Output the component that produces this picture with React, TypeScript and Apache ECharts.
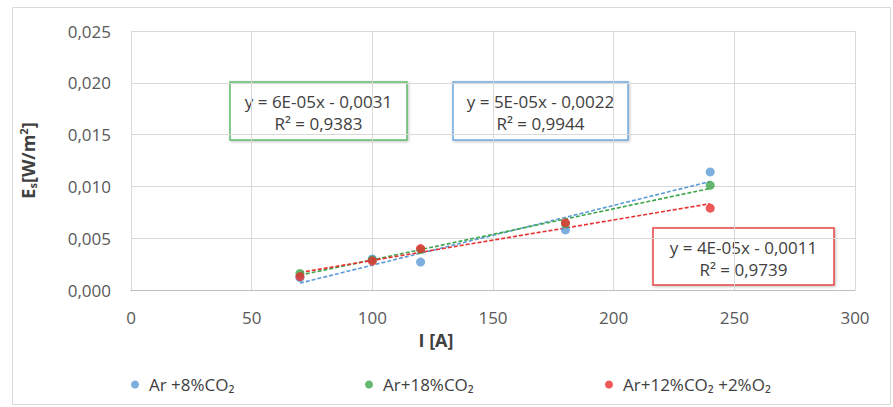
import React, { useEffect, useRef } from "react";
import * as echarts from "echarts";

const currents = [70, 100, 120, 180, 240];
const blueValues = [0.0012, 0.003, 0.0027, 0.0058, 0.0114];
const greenValues = [0.0016, 0.0029, 0.0039, 0.0064, 0.0101];
const redValues = [0.0013, 0.0028, 0.004, 0.0065, 0.0079];
const seriesNames = ["Ar +8%CO₂", "Ar+18%CO₂", "Ar+12%CO₂ +2%O₂"];
const equations = [
  ["y = 6E-05x - 0,0031", "R² = 0,9383"],
  ["y = 5E-05x - 0,0022", "R² = 0,9944"],
  ["y = 4E-05x - 0,0011", "R² = 0,9739"],
];
const xTicks = [0, 50, 100, 150, 200, 250, 300];
const yTicks = [0, 0.005, 0.01, 0.015, 0.02, 0.025];

const BLUE = "#5B9BD5";
const GREEN = "#3DA64B";
const RED = "#E8302F";
const FONT = "'Open Sans', 'Noto Sans', sans-serif";

function fit(xs: number[], ys: number[]) {
  const n = xs.length;
  const mx = xs.reduce((a, b) => a + b, 0) / n;
  const my = ys.reduce((a, b) => a + b, 0) / n;
  let sxy = 0, sxx = 0;
  for (let i = 0; i < n; i++) {
    sxy += (xs[i] - mx) * (ys[i] - my);
    sxx += (xs[i] - mx) ** 2;
  }
  const m = sxy / sxx;
  const b = my - m * mx;
  const x0 = Math.min(...xs), x1 = Math.max(...xs);
  return [[x0, m * x0 + b], [x1, m * x1 + b]];
}

function box(x: number, y: number, w: number, h: number, color: string, lines: string[]) {
  const font = `500 17px ${FONT}`;
  return {
    type: "group",
    x, y,
    children: [
      {
        type: "rect",
        shape: { x: 0, y: 0, width: w, height: h },
        style: { fill: "#fff", stroke: color, lineWidth: 1.5, shadowBlur: 3, shadowColor: "rgba(0,0,0,0.25)", shadowOffsetX: 1, shadowOffsetY: 1 },
      },
      {
        type: "text",
        x: w / 2, y: 19,
        style: { text: lines[0], fill: "#404040", font, align: "center", verticalAlign: "middle" },
      },
      {
        type: "text",
        x: w / 2, y: 41,
        style: { text: lines[1], fill: "#404040", font, align: "center", verticalAlign: "middle" },
      },
    ],
  };
}

export default function App() {
  const ref = useRef<HTMLDivElement>(null);
  useEffect(() => {
    if (!ref.current) return;
    const chart = echarts.init(ref.current, null, { renderer: "svg" });
    const data = [blueValues, greenValues, redValues];
    const colors = [BLUE, GREEN, RED];
    const series: any[] = [];
    data.forEach((vals, i) => {
      series.push({
        type: "line",
        name: seriesNames[i] + "-trend",
        data: fit(currents, vals),
        showSymbol: false,
        symbol: "none",
        lineStyle: { color: colors[i], width: 1.6, type: [4, 2] },
        silent: true,
        z: 2,
      });
    });
    data.forEach((vals, i) => {
      series.push({
        type: "scatter",
        name: seriesNames[i],
        data: currents.map((x, j) => [x, vals[j]]),
        symbolSize: 9,
        itemStyle: { color: colors[i] },
        z: 3,
      });
    });
    const legendLefts = [126, 360, 600];
    chart.setOption({
      animation: false,
      backgroundColor: "#fff",
      textStyle: { fontFamily: FONT },
      grid: { left: 131, right: 38, top: 31, bottom: 117 },
      xAxis: {
        type: "value",
        min: 0,
        max: 300,
        interval: 50,
        axisLine: { show: true, lineStyle: { color: "#bfbfbf", width: 1 } },
        axisTick: { show: false },
        axisLabel: { color: "#595959", fontSize: 17, margin: 19, fontFamily: FONT, formatter: (v: number) => (xTicks.includes(v) ? String(v) : "") },
        splitLine: { show: true, lineStyle: { color: "#d9d9d9", width: 1 } },
      },
      yAxis: {
        type: "value",
        min: 0,
        max: 0.025,
        interval: 0.005,
        name: "{b|E}{sub|s}{b|[W/m}{sup|2}{b|]}",
        nameLocation: "middle",
        nameGap: 92,
        nameRotate: 90,
        nameTextStyle: {
          rich: {
            b: { color: "#404040", fontSize: 18, fontWeight: "bold", fontFamily: FONT, lineHeight: 22 },
            sub: { color: "#404040", fontSize: 11, fontWeight: "bold", fontFamily: FONT, padding: [9, 0, 0, 0], lineHeight: 22 },
            sup: { color: "#404040", fontSize: 11, fontWeight: "bold", fontFamily: FONT, padding: [0, 0, 9, 0], lineHeight: 22 },
          },
        },
        axisLine: { show: false },
        axisTick: { show: false },
        axisLabel: {
          color: "#595959", fontSize: 17, margin: 20, fontFamily: FONT,
          formatter: (v: number) => (yTicks.some((t) => Math.abs(t - v) < 1e-9) ? v.toFixed(3).replace(".", ",") : ""),
        },
        splitLine: { show: true, lineStyle: { color: "#d9d9d9", width: 1 } },
      },
      legend: seriesNames.map((n, i) => ({
        data: [n],
        left: legendLefts[i],
        top: 371,
        icon: "circle",
        itemWidth: 8,
        itemHeight: 8,
        itemGap: 0,
        textStyle: { color: "#404040", fontSize: 17, fontWeight: 500, fontFamily: FONT, padding: [0, 0, 0, 5] },
        selectedMode: false,
      })),
      graphic: [
        {
          type: "rect",
          shape: { x: 12.5, y: 7.5, width: 878, height: 397 },
          style: { fill: "none", stroke: "#d9d9d9", lineWidth: 1 },
          silent: true,
        },
        {
          type: "text",
          x: 436, y: 340,
          style: { text: "I [A]", fill: "#404040", font: `bold 18px ${FONT}`, align: "center", verticalAlign: "middle" },
          silent: true,
        },
        box(230, 82, 177, 58, "#5DBB6B", equations[0]),
        box(453, 82, 175, 58, "#6FA8DC", equations[1]),
        box(653, 228, 181, 57, "#E84545", equations[2]),
      ],
      series,
    });
    return () => chart.dispose();
  }, []);
  return <div ref={ref} style={{ position: "fixed", left: 0, top: 0, width: 893, height: 407 }} />;
}
